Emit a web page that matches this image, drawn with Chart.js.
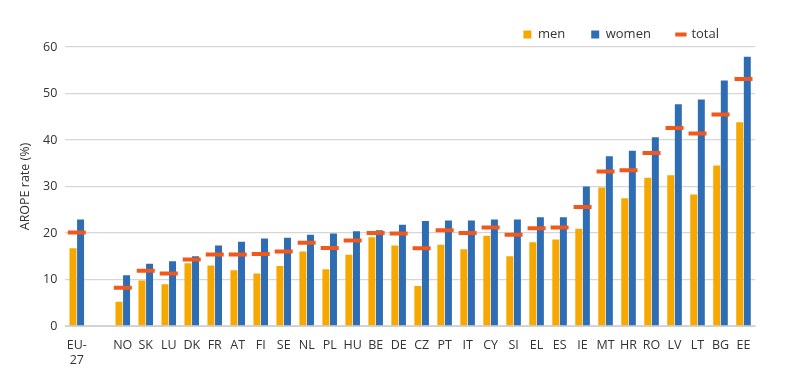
<!DOCTYPE html>
<html>
<head>
<meta charset="utf-8">
<script src="https://cdn.jsdelivr.net/npm/chart.js@4/dist/chart.umd.min.js"></script>
<style>
  html, body { margin: 0; padding: 0; background: #fff; }
  #wrap { width: 800px; height: 386px; }
</style>
</head>
<body>
<div id="wrap"><canvas id="grafica"></canvas></div>
<script>
// countries (empty slot after EU-27)
const paises = [['EU-', '27'], '', 'NO', 'SK', 'LU', 'DK', 'FR', 'AT', 'FI', 'SE', 'NL', 'PL', 'HU', 'BE', 'DE',
  'CZ', 'PT', 'IT', 'CY', 'SI', 'EL', 'ES', 'IE', 'MT', 'HR', 'RO', 'LV', 'LT', 'BG', 'EE'];
const hombres = [16.7, null, 5.2, 9.8, 9.0, 13.5, 13.0, 12.0, 11.3, 12.9, 16.0, 12.2, 15.3, 19.1, 17.3,
  8.6, 17.5, 16.5, 19.4, 15.0, 18.0, 18.6, 20.9, 29.8, 27.5, 31.9, 32.4, 28.3, 34.5, 43.8];
const mujeres = [22.9, null, 10.9, 13.4, 13.9, 15.0, 17.3, 18.1, 18.8, 19.0, 19.6, 19.9, 20.4, 20.6, 21.8,
  22.6, 22.7, 22.7, 22.9, 22.9, 23.4, 23.4, 30.0, 36.5, 37.7, 40.6, 47.7, 48.7, 52.8, 57.9];
const total = [20.1, null, 8.2, 11.9, 11.3, 14.3, 15.4, 15.4, 15.5, 16.0, 17.9, 16.8, 18.4, 20.0, 19.9,
  16.7, 20.6, 20.0, 21.2, 19.6, 21.0, 21.2, 25.6, 33.2, 33.5, 37.2, 42.6, 41.4, 45.5, 53.1];
const ticksY = [0, 10, 20, 30, 40, 50, 60];

const fuente = "'Open Sans', 'Liberation Sans', sans-serif";
Chart.defaults.font.family = fuente;
Chart.defaults.color = '#404040';

// nudge the legend a little (down and left) after layout
const moverLeyenda = {
    id: 'moverLeyenda',
    afterLayout(chart) {
        const l = chart.legend;
        if (!l) return;
        l.top += 4;
        l.bottom += 4;
        l.left -= 10;
        l.right -= 10;
    }
};

let ctx = document.getElementById('grafica').getContext('2d');
new Chart(ctx, {
    type: 'bar',
    data: {
        labels: paises,
        datasets: [
            {
                label: 'total',
                type: 'line',
                data: total,
                showLine: false,
                pointStyle: 'line',
                pointRadius: 9,
                pointHoverRadius: 9,
                borderColor: '#F2581B',
                backgroundColor: '#F2581B',
                borderWidth: 4,
                order: 0
            },
            {
                label: 'men',
                data: hombres,
                backgroundColor: '#F7A800',
                pointStyle: 'rect',
                categoryPercentage: 0.66,
                barPercentage: 0.92,
                order: 1
            },
            {
                label: 'women',
                data: mujeres,
                backgroundColor: '#2E6CB3',
                pointStyle: 'rect',
                categoryPercentage: 0.66,
                barPercentage: 0.92,
                order: 1
            }
        ]
    },
    options: {
        responsive: true,
        maintainAspectRatio: false,
        animation: false,
        layout: { padding: { left: 16, right: 45, top: -2, bottom: 14 } },
        plugins: {
            tooltip: { enabled: false },
            legend: {
                position: 'top',
                align: 'end',
                labels: {
                    usePointStyle: true,
                    boxWidth: 8,
                    boxHeight: 8,
                    padding: 26,
                    color: '#333',
                    font: { size: 13 },
                    sort: (a, b) => ['men', 'women', 'total'].indexOf(a.text) - ['men', 'women', 'total'].indexOf(b.text)
                }
            }
        },
        scales: {
            x: {
                grid: { display: false },
                border: { color: '#d0d0d0', width: 1 },
                ticks: { color: '#333', font: { size: 12.5 }, maxRotation: 0, autoSkip: false, padding: 4 }
            },
            y: {
                min: 0,
                max: 60,
                afterBuildTicks: axis => { axis.ticks = ticksY.map(v => ({ value: v })); },
                grid: { color: '#d6d6d6', lineWidth: 1.3, drawTicks: false },
                border: { display: false },
                ticks: { color: '#333', font: { size: 12.5 }, padding: 8 },
                title: { display: true, text: 'AROPE rate (%)', color: '#333', font: { size: 12.5 }, padding: 2 }
            }
        }
    },
    plugins: [moverLeyenda]
});
</script>
</body>
</html>
